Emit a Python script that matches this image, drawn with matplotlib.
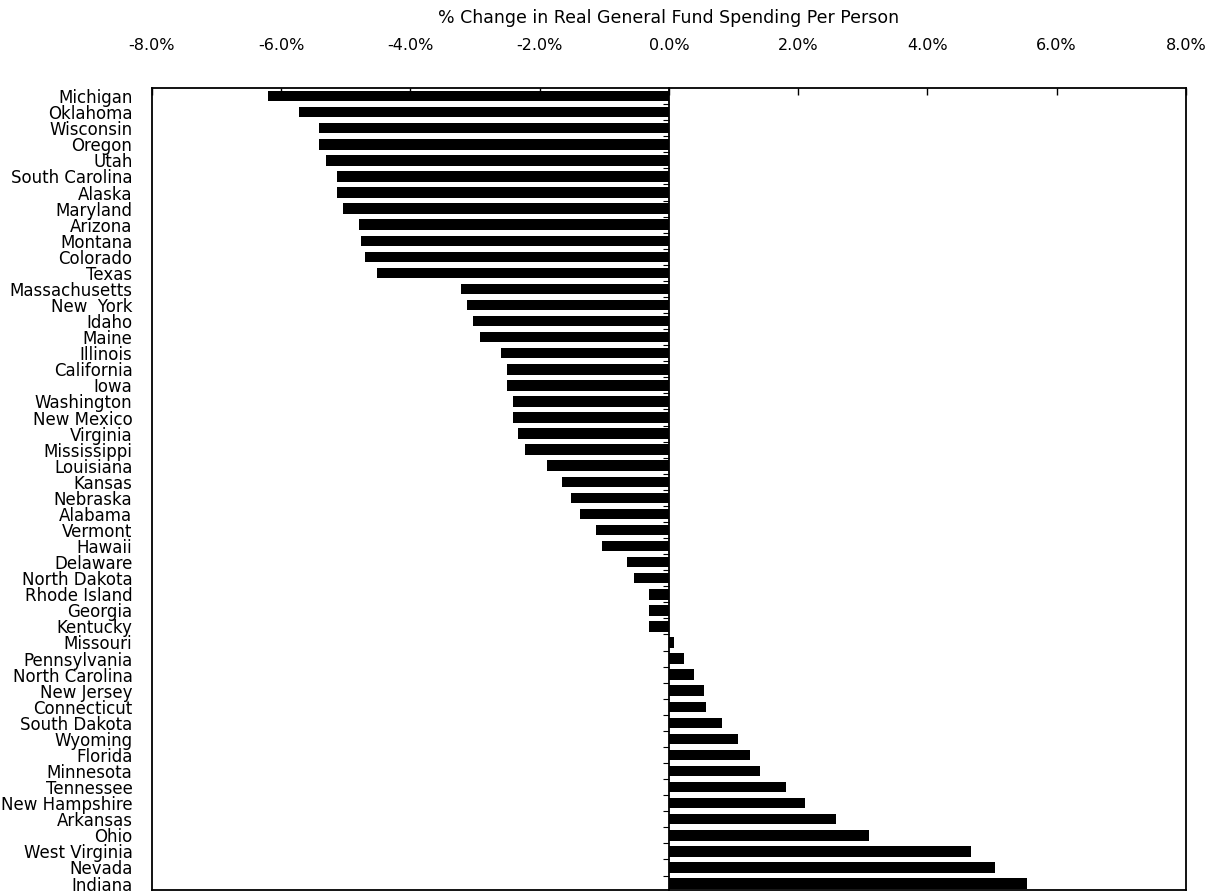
import numpy as np
import matplotlib
matplotlib.use('Agg')
import matplotlib.pyplot as plt
from matplotlib.ticker import FuncFormatter

states = ['Michigan', 'Oklahoma', 'Wisconsin', 'Oregon', 'Utah', 'South Carolina', 'Alaska',
          'Maryland', 'Arizona', 'Montana', 'Colorado', 'Texas', 'Massachusetts', 'New  York',
          'Idaho', 'Maine', 'Illinois', 'California', 'Iowa', 'Washington', 'New Mexico',
          'Virginia', 'Mississippi', 'Louisiana', 'Kansas', 'Nebraska', 'Alabama', 'Vermont',
          'Hawaii', 'Delaware', 'North Dakota', 'Rhode Island', 'Georgia', 'Kentucky', 'Missouri',
          'Pennsylvania', 'North Carolina', 'New Jersey', 'Connecticut', 'South Dakota', 'Wyoming',
          'Florida', 'Minnesota', 'Tennessee', 'New Hampshire', 'Arkansas', 'Ohio',
          'West Virginia', 'Nevada', 'Indiana']
change = [-6.21, -5.73, -5.42, -5.42, -5.30, -5.14, -5.14, -5.05, -4.80, -4.77, -4.70, -4.52,
          -3.21, -3.12, -3.03, -2.93, -2.59, -2.50, -2.50, -2.41, -2.41, -2.34, -2.22, -1.88,
          -1.66, -1.52, -1.38, -1.13, -1.04, -0.65, -0.54, -0.31, -0.30, -0.30, 0.08, 0.23,
          0.39, 0.54, 0.57, 0.82, 1.07, 1.26, 1.41, 1.82, 2.10, 2.59, 3.09, 4.67, 5.05, 5.54]
xticks = [-8, -6, -4, -2, 0, 2, 4, 6, 8]
title = '% Change in Real General Fund Spending Per Person'

plt.rcParams['font.family'] = ['DejaVu Sans']

fig = plt.figure(figsize=(12.15, 8.94), dpi=100)
ax = fig.add_axes([0.125, 0.0045, 0.851, 0.897])

y = np.arange(len(states))
ax.barh(y, change, height=0.65, color='black')
ax.set_xlim(-8, 8)
ax.set_ylim(len(states) - 0.6, -0.5)

ax.xaxis.tick_top()
ax.set_xticks(xticks)
ax.xaxis.set_major_formatter(FuncFormatter(lambda v, p: '%.1f%%' % v))
ax.tick_params(axis='x', direction='in', length=5, pad=25, labelsize=11.5, width=1)
ax.set_yticks(y)
ax.set_yticklabels(states, fontsize=12)
ax.tick_params(axis='y', length=0, pad=14)
for s in ax.spines.values():
    s.set_linewidth(1.3)

# zero line with small ticks between the bars
ax2 = ax.twinx()
ax2.set_ylim(ax.get_ylim())
ax2.spines['right'].set_position(('data', 0))
for side in ['top', 'bottom', 'left']:
    ax2.spines[side].set_visible(False)
ax2.spines['right'].set_linewidth(1.3)
ax2.set_yticks(y[:-1] + 0.5)
ax2.tick_params(axis='y', direction='in', length=4, labelright=False)

fig.text(0.5506, 1 - 18 / 894, title, ha='center', va='center', fontsize=12.5)

plt.savefig('out.png', dpi=100)
